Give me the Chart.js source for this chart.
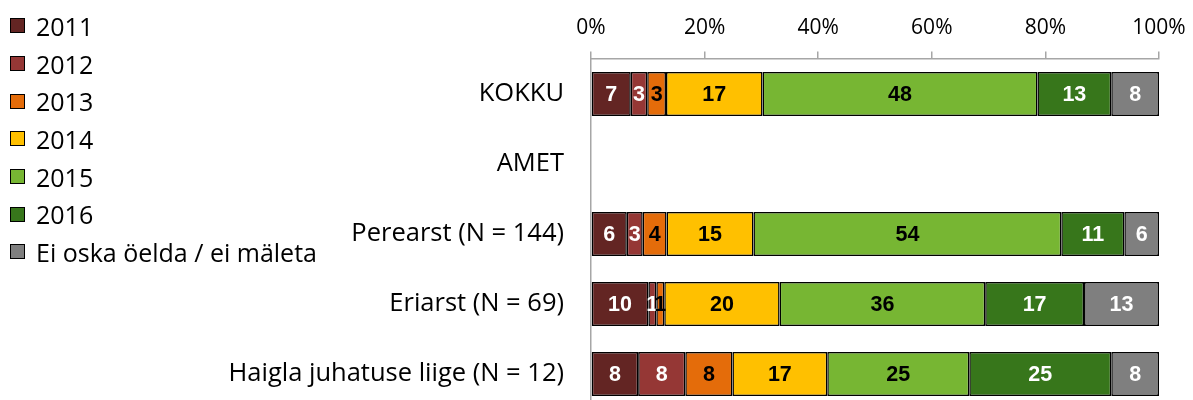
<!DOCTYPE html>
<html>
<head>
<meta charset="utf-8">
<title>Aasta</title>
<script src="https://cdn.jsdelivr.net/npm/chart.js@4/dist/chart.umd.min.js"></script>
<style>
    html, body { margin: 0; padding: 0; background: #fff; }
    #wrap { position: relative; width: 1193px; height: 400px; overflow: hidden; }
    #yearChart { position: absolute; left: 0; top: 0; }
    #legend { position: absolute; left: 10px; top: 7px; font-family: "Open Sans", "Noto Sans", sans-serif; font-size: 25px; color: #000; }
    .legend-row { display: flex; align-items: center; height: 37.7px; white-space: nowrap; }
    .legend-box { width: 13px; height: 13px; border: 1.5px solid #000; margin-right: 11px; flex: none; }
</style>
</head>
<body>
<div id="wrap">
    <canvas id="yearChart" width="1193" height="409"></canvas>
    <div id="legend"></div>
</div>
<script>
// ---------- Data ----------
const categories = ["KOKKU", "AMET", "Perearst (N = 144)", "Eriarst (N = 69)", "Haigla juhatuse liige (N = 12)"];
const seriesNames = ["2011", "2012", "2013", "2014", "2015", "2016", "Ei oska öelda / ei mäleta"];

const values2011 = [7.0, null, 6.3, 10.1, 8.3];
const values2012 = [2.9, null, 2.8, 1.4, 8.3];
const values2013 = [3.3, null, 4.2, 1.4, 8.3];
const values2014 = [17.0, null, 15.3, 20.3, 16.7];
const values2015 = [48.4, null, 54.2, 36.2, 25.0];
const values2016 = [13.0, null, 11.1, 17.4, 25.0];
const valuesDontKnow = [8.4, null, 6.1, 13.2, 8.4];

const tickValues = [0, 20, 40, 60, 80, 100];

// ---------- Styles ----------
const seriesColors = ["#632523", "#953735", "#e46c0a", "#ffc000", "#77b633", "#37761b", "#7f7f7f"];
const labelColors = ["#fff", "#fff", "#000", "#000", "#000", "#fff", "#fff"];
const axisFont = "'Open Sans', 'Noto Sans', sans-serif";

const seriesValues = [values2011, values2012, values2013, values2014, values2015, values2016, valuesDontKnow];

const datasets = seriesNames.map((name, i) => ({
    label: name,
    data: seriesValues[i],
    backgroundColor: seriesColors[i],
    borderColor: "#000",
    borderWidth: 1.5,
    borderSkipped: false,
    barPercentage: 0.63,
    categoryPercentage: 1
}));

// numbers inside the segments
const barLabels = {
    id: "barLabels",
    afterDatasetsDraw(chart) {
        const ctx = chart.ctx;
        ctx.save();
        ctx.font = "bold 21.5px 'Liberation Sans', Arial, sans-serif";
        ctx.textAlign = "center";
        ctx.textBaseline = "middle";
        chart.data.datasets.forEach((ds, i) => {
            const meta = chart.getDatasetMeta(i);
            meta.data.forEach((bar, j) => {
                const v = ds.data[j];
                if (v == null) return;
                const c = bar.getCenterPoint();
                ctx.fillStyle = labelColors[i];
                ctx.fillText(String(Math.round(v)), c.x, c.y + 1);
            });
        });
        ctx.restore();
    }
};

const ctx = document.getElementById("yearChart").getContext("2d");
const yearChart = new Chart(ctx, {
    type: "bar",
    data: { labels: categories, datasets: datasets },
    plugins: [barLabels],
    options: {
        indexAxis: "y",
        responsive: false,
        animation: false,
        layout: { padding: { top: 5.5, right: 34, left: 0, bottom: 0 } },
        plugins: { legend: { display: false }, tooltip: { enabled: false } },
        scales: {
            x: {
                position: "top",
                stacked: true,
                min: 0,
                max: 100,
                afterBuildTicks: scale => { scale.ticks = tickValues.map(v => ({ value: v })); },
                afterFit: scale => {
                    scale.paddingLeft = 0;
                    scale.paddingRight = 0;
                },
                ticks: {
                    callback: v => v + "%",
                    font: { family: axisFont, size: 21 },
                    color: "#000",
                    padding: 10.4,
                    maxRotation: 0
                },
                grid: { drawOnChartArea: false, drawTicks: true, tickLength: 7.5, color: "#a6a6a6", lineWidth: 1.5 },
                border: { display: true, color: "#a6a6a6", width: 1.5 }
            },
            y: {
                stacked: true,
                afterFit: scale => {
                    scale.width = 591;
                    // labels sit beside the bars, no extra room above/below
                    scale.paddingTop = 0;
                    scale.paddingBottom = 0;
                },
                ticks: {
                    font: { family: axisFont, size: 25.5 },
                    color: "#000",
                    padding: 27
                },
                grid: { drawOnChartArea: false, drawTicks: false },
                border: { display: true, color: "#a6a6a6", width: 1.5 }
            }
        }
    }
});

// ---------- Legend ----------
const legendEl = document.getElementById("legend");
yearChart.data.datasets.forEach(ds => {
    const row = document.createElement("div");
    row.className = "legend-row";
    row.innerHTML = `<span class="legend-box" style="background:${ds.backgroundColor}"></span><span>${ds.label}</span>`;
    legendEl.appendChild(row);
});
</script>
</body>
</html>
